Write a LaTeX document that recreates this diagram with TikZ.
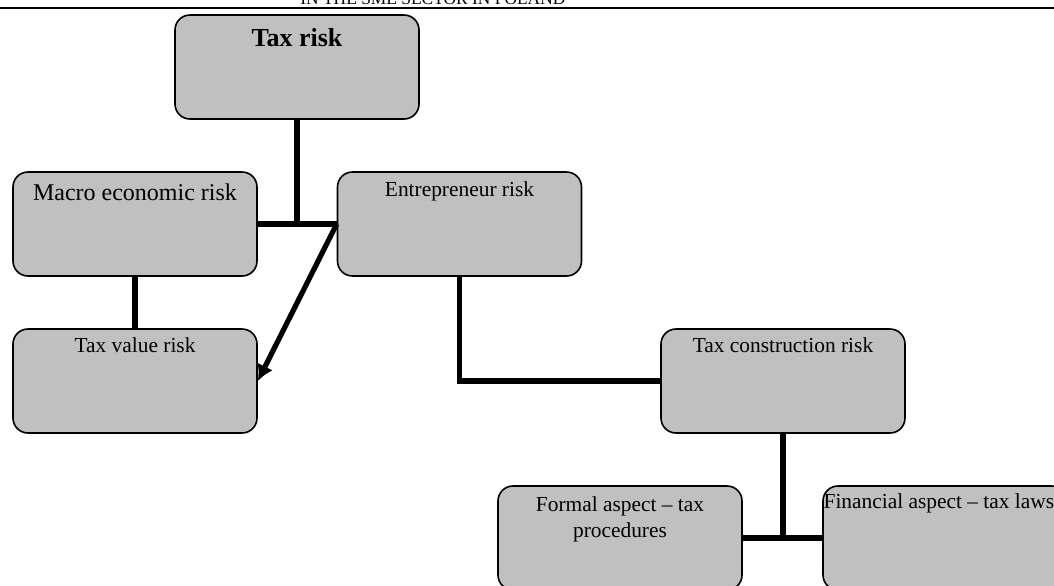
\documentclass[tikz,border=0pt]{standalone}
\usepackage{fontspec}
\setmainfont{Liberation Serif}
\usetikzlibrary{arrows.meta}

\definecolor{boxgray}{RGB}{192,192,192}

\tikzset{
  riskbox/.style={draw, rounded corners=7.5pt, fill=boxgray, line width=0.8pt,
    minimum width=122pt, minimum height=52pt, inner sep=0pt},
  risktext/.style={anchor=base, inner sep=0pt, align=center,
    font=\fontsize{10.7}{13}\selectfont},
  link/.style={line width=2.6pt},
}

\begin{document}
\begin{tikzpicture}[x=0.5pt, y=-0.5pt, >={Latex[length=8pt,width=8.5pt]}]
        \useasboundingbox (0,0) rectangle (1054,585);

        % ==== HEADER ====
        \node[anchor=base west, inner sep=0pt, font=\fontsize{8.7}{10}\selectfont]
            (header) at (300,4.5) {IN THE SME SECTOR IN POLAND};
        \draw[line width=1pt] (0,7.5) -- (1054,7.5);

        % ==== BOXES ====
        \node[riskbox] (taxrisk)   at (297,67)  {};
        \node[riskbox] (macro)     at (135,224) {};
        \node[riskbox] (entre)     at (459.5,224) {};
        \node[riskbox] (taxvalue)  at (135,381) {};
        \node[riskbox] (taxcons)   at (783,381) {};
        \node[riskbox] (formal)    at (620,538) {};
        \node[riskbox] (financial) at (945,538) {};

        % ==== BOX TEXTS ====
        \node[risktext, font=\bfseries\fontsize{13}{15}\selectfont]
            (taxrisk-t) at ([yshift=-16pt]taxrisk.north) {Tax risk};
        \node[risktext, font=\fontsize{12}{14}\selectfont]
            (macro-t) at ([yshift=-14.5pt]macro.north) {Macro economic risk};
        \node[risktext] (entre-t) at ([yshift=-12.5pt]entre.north) {Entrepreneur risk};
        \node[risktext] (taxvalue-t) at ([yshift=-12pt]taxvalue.north) {Tax value risk};
        \node[risktext] (taxcons-t) at ([yshift=-12pt]taxcons.north) {Tax construction risk};
        % base of a two-line node sits on its last line
        \node[risktext] (formal-t) at ([yshift=-26pt]formal.north) {Formal aspect -- tax\\procedures};
        \node[risktext, anchor=base west]
            (financial-t) at ([xshift=0.5pt,yshift=-11.5pt]financial.north west) {Financial aspect -- tax laws};

        % ==== CONNECTORS ====
        \coordinate (join1) at (taxrisk.south |- macro.east);
        \draw[link] (taxrisk.south) -- (join1);
        \draw[link] (macro.east) -- (entre.west);
        \draw[link] (macro.south) -- (taxvalue.north);
        \draw[link, ->] (entre.west) -- (taxvalue.east);
        \draw[link] (entre.south) |- (taxcons.west);
        \coordinate (join2) at (taxcons.south |- formal.east);
        \draw[link] (taxcons.south) -- (join2);
        \draw[link] (formal.east) -- (financial.west);

\end{tikzpicture}
\end{document}
